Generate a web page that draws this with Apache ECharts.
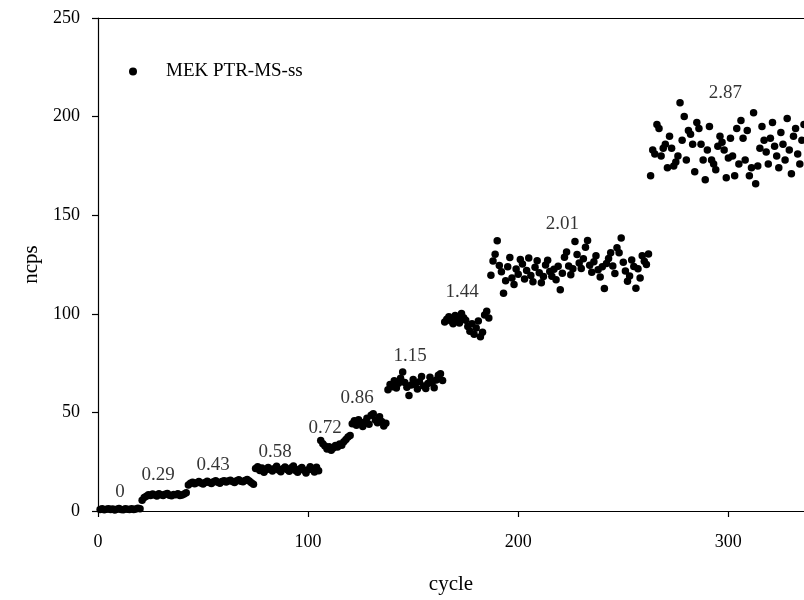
<!DOCTYPE html>
<html>
<head>
<meta charset="utf-8">
<title>MEK PTR-MS-ss</title>
<script src="https://cdn.jsdelivr.net/npm/echarts@6/dist/echarts.min.js"></script>
<style>
  html, body { margin: 0; padding: 0; background: #fff; }
  #chart { width: 804px; height: 600px; }
</style>
</head>
<body>
<div id="chart"></div>
<script>
// Normalised counts per second, one reading per cycle, grouped by MEK step
const firstCycle = 1;
const level0 = [0.8, 1.1, 0.6, 0.9, 1.2, 0.7, 1.0, 0.5, 0.9, 1.3, 0.8, 0.6, 1.1, 0.9, 0.7, 1.2, 0.8, 1.0, 1.4, 1.1];
const level029 = [5.4, 6.8, 7.5, 8.2, 7.9, 8.6, 8.1, 7.6, 8.8, 8.3, 7.9, 8.5, 8.9, 8.0, 7.7, 8.4, 8.2, 8.7, 7.8, 8.1, 8.6, 9.3];
const level043 = [13.2, 14.1, 14.6, 13.8, 14.3, 14.9, 14.2, 13.7, 14.5, 15.1, 14.4, 14.0, 14.8, 15.3, 14.6, 14.1,
                  15.0, 15.4, 14.7, 15.2, 15.6, 14.9, 14.5, 15.3, 15.8, 15.1, 14.8, 15.5, 16.0, 15.2, 14.3, 13.6];
const level058 = [21.5, 22.4, 20.6, 21.8, 19.7, 20.9, 22.1, 21.2, 20.3, 21.6, 22.7, 20.8, 19.9, 21.4, 22.3, 21.0,
                  20.2, 21.9, 22.8, 20.5, 19.6, 21.3, 22.0, 20.7, 19.3, 20.9, 22.5, 21.1, 19.8, 22.2, 20.4];
const level072 = [35.8, 34.1, 32.9, 31.5, 32.6, 30.8, 31.9, 33.2, 32.4, 34.0, 33.3, 35.1, 36.2, 37.5, 38.3];
const level086 = [44.2, 45.8, 43.5, 46.3, 44.9, 42.8, 45.1, 47.0, 44.0, 48.6, 49.3, 46.2, 44.7, 47.8, 45.4, 43.1, 44.5];
const level115 = [61.5, 64.2, 63.0, 66.1, 62.4, 64.8, 67.3, 70.5, 65.2, 62.8, 58.6, 63.9, 66.7, 64.1, 61.9, 65.5,
                  68.2, 63.4, 62.1, 64.6, 67.8, 65.0, 62.5, 66.4, 68.9, 69.6, 66.2];
const level144 = [95.8, 97.2, 98.5, 96.4, 94.9, 99.1, 97.6, 95.3, 100.2, 98.0, 96.7, 93.5, 91.2, 95.0, 89.6, 92.8,
                  96.3, 88.4, 90.7, 99.4, 101.3, 97.9];
const level201 = [119.5, 126.8, 130.2, 137.0, 124.5, 121.3, 110.4, 116.8, 123.9, 128.6, 118.2, 114.9, 122.7, 120.1,
                  127.5, 125.2, 117.6, 121.9, 128.3, 119.4, 116.2, 123.6, 126.9, 120.8, 115.7, 118.9, 124.8, 127.1, 121.5,
                  119.0, 122.6, 117.3, 124.1, 112.2, 120.5, 128.7, 131.4, 124.3, 119.8, 122.9, 136.6, 130.1, 125.7, 123.0,
                  127.9, 133.8, 137.2, 124.6, 121.1, 126.4, 129.5, 122.3, 118.7, 123.8, 112.8, 125.5, 128.0, 130.9, 124.2,
                  120.4, 133.5, 131.0, 138.5, 126.1, 121.7, 116.5, 119.2, 127.3, 124.0, 113.0, 122.8, 118.1, 129.4, 126.7,
                  125.0, 130.3];
const level287 = [170, 183, 181, 196, 194, 180, 184, 186, 174, 190, 184, 175, 177, 180, 207, 188, 200, 178, 193, 191,
                  186, 172, 197, 194, 186, 178, 168, 183, 195, 178, 176, 173, 185, 190, 187, 183, 169, 179, 189, 180,
                  170, 194, 176, 198, 189, 178, 193, 170, 174, 202, 166, 175, 184, 195, 188, 182, 176, 189, 197, 185,
                  180, 174, 192, 186, 178, 199, 183, 171, 190, 194, 181, 176, 188, 196, 179, 185, 173, 190];

// Concentration of each step and where its caption sits (cycle, ncps)
const stepTexts  = ['0', '0.29', '0.43', '0.58', '0.72', '0.86', '1.15', '1.44', '2.01', '2.87'];
const stepCycles = [10.5, 28.6, 54.8, 84.3, 108.1, 123.3, 148.6, 173.3, 221, 298.6];
const stepNcps   = [9.6, 18.1, 23.1, 29.7, 42.3, 57.3, 78.5, 111.2, 145.4, 211.8];

const yTicks = [0, 50, 100, 150, 200, 250];
const xTicks = [0, 100, 200, 300];

const seriesName = 'MEK PTR-MS-ss';
const ncps = [].concat(level0, level029, level043, level058, level072, level086, level115, level144, level201, level287);
const points = ncps.map((v, i) => [firstCycle + i, v]);
const captions = stepTexts.map((t, i) => [stepCycles[i], stepNcps[i], t]);

const serif = 'Liberation Serif';
const chart = echarts.init(document.getElementById('chart'), null, { renderer: 'canvas' });

chart.setOption({
  animation: false,
  backgroundColor: '#fff',
  textStyle: { fontFamily: serif, color: '#000' },
  grid: { left: 98, right: 0, top: 18, bottom: 84, containLabel: false },
  legend: {
    data: [{ name: seriesName, icon: 'circle' }],
    left: 124, top: 57,
    itemWidth: 56, itemHeight: 8, itemGap: 0,
    textStyle: { fontFamily: serif, fontSize: 19, color: '#000' },
    itemStyle: { opacity: 1 },
    selectedMode: false
  },
  xAxis: [{
    type: 'value',
    min: xTicks[0], max: 336, interval: 100,
    name: 'cycle', nameLocation: 'middle', nameGap: 63,
    nameTextStyle: { fontFamily: serif, fontSize: 21, color: '#000' },
    axisLine: { show: true, onZero: false, lineStyle: { color: '#000', width: 1.2 } },
    axisTick: { show: true, inside: false, length: 6, lineStyle: { color: '#000', width: 1.2 } },
    axisLabel: {
      fontFamily: serif, fontSize: 18, color: '#000', margin: 22, showMaxLabel: false,
      formatter: v => (xTicks.indexOf(v) >= 0 ? String(v) : '')
    },
    splitLine: { show: false }
  }, {
    type: 'value', position: 'top',
    min: xTicks[0], max: 336,
    axisLine: { show: true, onZero: false, lineStyle: { color: '#000', width: 1.2 } },
    axisTick: { show: false }, axisLabel: { show: false }, splitLine: { show: false }
  }],
  yAxis: {
    type: 'value',
    min: yTicks[0], max: yTicks[yTicks.length - 1], interval: 50,
    name: 'ncps', nameLocation: 'middle', nameGap: 56,
    nameTextStyle: { fontFamily: serif, fontSize: 21, color: '#000' },
    axisLine: { show: true, onZero: false, lineStyle: { color: '#000', width: 1.2 } },
    axisTick: { show: true, inside: false, length: 6, lineStyle: { color: '#000', width: 1.2 } },
    axisLabel: { fontFamily: serif, fontSize: 18, color: '#000', margin: 18 },
    splitLine: { show: false }
  },
  series: [{
    name: seriesName,
    type: 'scatter',
    xAxisIndex: 0,
    symbol: 'circle',
    symbolSize: 7.5,
    itemStyle: { color: '#000', opacity: 1 },
    data: points,
    silent: true
  }, {
    name: 'steps',
    type: 'scatter',
    xAxisIndex: 0,
    symbol: 'circle',
    symbolSize: 1,
    itemStyle: { color: 'rgba(0,0,0,0)' },
    label: {
      show: true, position: 'inside',
      fontFamily: serif, fontSize: 19, color: '#000',
      formatter: p => p.value[2]
    },
    data: captions,
    silent: true,
    z: 3
  }]
});
</script>
</body>
</html>
